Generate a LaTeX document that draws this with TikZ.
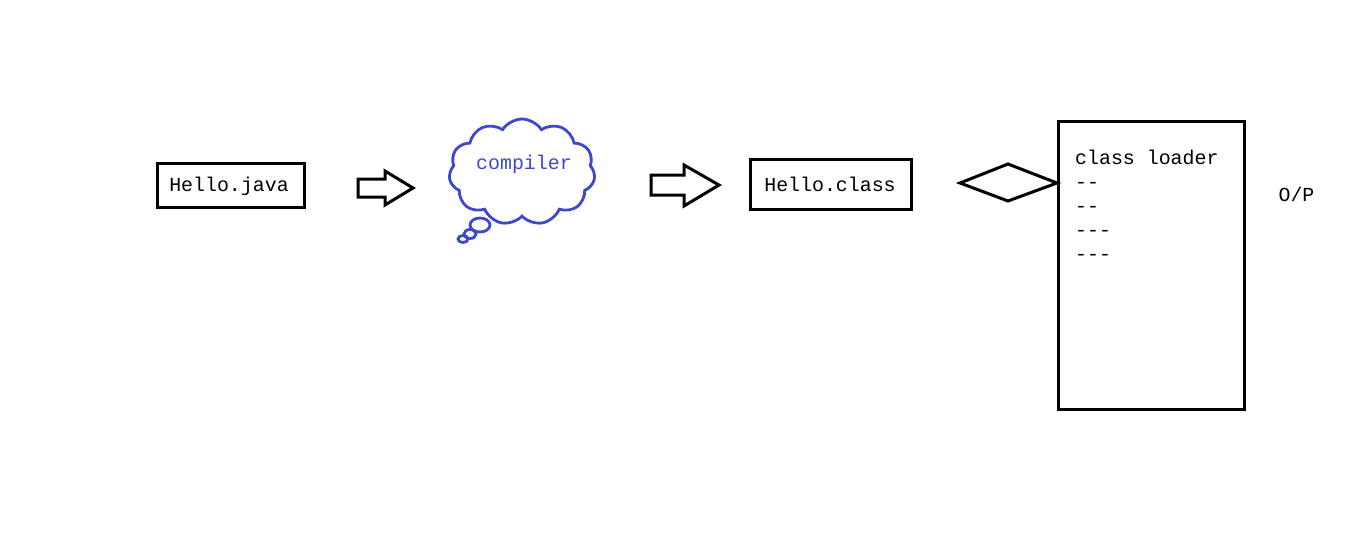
\documentclass[tikz,border=0pt]{standalone}
\usepackage{fontspec}
\setmonofont{Liberation Mono}
\usetikzlibrary{shapes.symbols,shapes.geometric}
\definecolor{pblue}{RGB}{63,72,204}
\begin{document}
\begin{tikzpicture}[x=1pt,y=-1pt,
  txt/.style={font=\ttfamily\fontsize{19.9}{24}\selectfont, inner sep=0pt},
  filebox/.style={draw=black, line width=3pt, inner sep=0pt},
  blockarrow/.style={draw=black, line width=3pt, line join=miter, fill=white},
  bubble/.style={draw=pblue, line width=2.8pt, ellipse, inner sep=0pt}]
\useasboundingbox (0,0) rectangle (1350,555);
\fill[white] (0,0) rectangle (1350,555);
% Hello.java
\node[filebox, minimum width=147pt, minimum height=44pt] (java) at (230.5,185) {};
\node[txt] (javatxt) at (229,186) {Hello.java};
% arrow 1
\draw[blockarrow] (358,179) -- (385,179) -- (385,171) -- (413,188) -- (385,205) -- (385,197) -- (358,197) -- cycle;
% cloud
\node[cloud, draw=pblue, line width=2.8pt, cloud puffs=11, cloud puff arc=115, aspect=1.35,
      minimum width=146pt, minimum height=106pt, inner sep=0pt] (cloud) at (522,172) {};
\node[txt, text=pblue] (comp) at (524,164) {compiler};
\node[bubble, minimum width=20pt, minimum height=14pt] (b1) at (480,225) {};
\node[bubble, minimum width=12pt, minimum height=9pt] (b2) at (470,234) {};
\node[bubble, minimum width=10pt, minimum height=7pt] (b3) at (463,239) {};
% arrow 2
\draw[blockarrow] (651,175) -- (684,175) -- (684,165) -- (719,185) -- (684,206) -- (684,195) -- (651,195) -- cycle;
% Hello.class
\node[filebox, minimum width=161pt, minimum height=50pt] (cls) at (830.5,184) {};
\node[txt] (clstxt) at (830,184) {Hello.class};
% diamond
\coordinate (dl) at (960,183);
\coordinate (dt) at (1008,164);
\coordinate (dr) at (1057,183);
\coordinate (db) at (1008,201);
\draw[line width=3pt, line join=miter] (dl) -- (dt) -- (dr) -- (db) -- cycle;
% JVM box
\node[filebox, minimum width=186pt, minimum height=288pt] (jvm) at (1151,265) {};
\node[txt, anchor=base west] (l1) at (1075,164) {class loader};
\node[txt, anchor=base west] (l2) at (1075,188) {-{}-};
\node[txt, anchor=base west] (l3) at (1075,212) {-{}-};
\node[txt, anchor=base west] (l4) at (1075,236) {-{}-{}-};
\node[txt, anchor=base west] (l5) at (1075,260) {-{}-{}-};
% O/P
\node[txt] (op) at (1296.5,194) {O/P};
\end{tikzpicture}
\end{document}
